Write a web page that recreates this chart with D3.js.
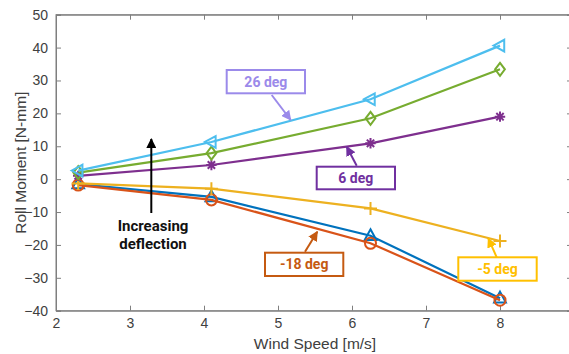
<!DOCTYPE html>
<html><head><meta charset="utf-8">
<script src="https://cdn.jsdelivr.net/npm/d3@7"></script>
<style>body{margin:0;background:#fff}svg{display:block}</style>
</head><body>
<script>
const windSpeed = [2.3, 4.1, 6.25, 8.0];
const seriesNames = ["s1", "-18 deg", "-5 deg", "6 deg", "s5", "26 deg"];
const seriesColors = ["#0072BD", "#D95319", "#EDB120", "#7E2F8E", "#77AC30", "#4DBEEE"];
const seriesMarkers = ["triUp", "circle", "plus", "star", "diamond", "triLeft"];
const valsBlue = [-1.5, -5.4, -17.2, -36.2];
const valsOrange = [-1.8, -6.3, -19.5, -36.8];
const valsYellow = [-1.3, -2.9, -8.9, -18.8];
const valsPurple = [1.0, 4.3, 10.9, 19.0];
const valsGreen = [2.0, 7.9, 18.5, 33.4];
const valsCyan = [2.6, 11.3, 24.3, 40.6];
const allVals = [valsBlue, valsOrange, valsYellow, valsPurple, valsGreen, valsCyan];
const xTicks = [2, 3, 4, 5, 6, 7, 8];
const yTicks = [-40, -30, -20, -10, 0, 10, 20, 30, 40, 50];

const W = 569, H = 354;
const svg = d3.select("body").append("svg").attr("width", W).attr("height", H)
  .style("font-family", "'Liberation Sans', Arial, sans-serif");
const x = d3.scaleLinear().domain([2, 9]).range([56, 574]);
const y = d3.scaleLinear().domain([-40, 50]).range([310.7, 14.7]);
const axisCol = "#7f7f7f", textCol = "#404040";

svg.append("rect").attr("x", 56).attr("y", 14.7).attr("width", 574 - 56).attr("height", 310.7 - 14.7)
  .attr("fill", "none").attr("stroke", axisCol).attr("stroke-width", 1);

const gx = svg.append("g").attr("transform", "translate(0,310.7)")
  .call(d3.axisBottom(x).tickValues(xTicks).tickSize(-5).tickPadding(7).tickFormat(d3.format("d")));
const gxt = svg.append("g").attr("transform", "translate(0,14.7)")
  .call(d3.axisTop(x).tickValues(xTicks).tickSize(-5).tickFormat(""));
const gy = svg.append("g").attr("transform", "translate(56,0)")
  .call(d3.axisLeft(y).tickValues(yTicks).tickSize(-5).tickPadding(8).tickFormat(d3.format("d")));
const gyr = svg.append("g").attr("transform", "translate(572,0)")
  .call(d3.axisRight(y).tickValues(yTicks).tickSize(-5).tickFormat(""));
[gx, gxt, gy, gyr].forEach(g => {
  g.select(".domain").attr("stroke", axisCol);
  g.selectAll(".tick line").attr("stroke", axisCol);
  g.selectAll(".tick text").attr("fill", textCol).style("font-size", "14px");
});

svg.append("text").attr("x", x(5.5)).attr("y", 349).attr("text-anchor", "middle")
  .attr("fill", textCol).style("font-size", "15.5px").text("Wind Speed [m/s]");
svg.append("text").attr("transform", "translate(26," + y(5) + ") rotate(-90)").attr("text-anchor", "middle")
  .attr("fill", textCol).style("font-size", "15.5px").text("Roll Moment [N-mm]");

function markerPath(type, s) {
  const r = s / 2;
  switch (type) {
    case "triUp": return `M0,${-r}L${r * 0.9},${r * 0.65}L${-r * 0.9},${r * 0.65}Z`;
    case "triLeft": return `M${-r},0L${r * 0.65},${-r * 0.9}L${r * 0.65},${r * 0.9}Z`;
    case "diamond": return `M0,${-r}L${r * 0.75},0L0,${r}L${-r * 0.75},0Z`;
    case "plus": return `M${-r},0L${r},0M0,${-r}L0,${r}`;
    case "circle": return d3.arc()({innerRadius: 0, outerRadius: r * 0.85, startAngle: 0, endAngle: 2 * Math.PI});
    case "star": {
      let p = "";
      for (let i = 0; i < 4; i++) {
        const a = i * Math.PI / 4;
        p += `M${-r * 0.8 * Math.cos(a)},${-r * 0.8 * Math.sin(a)}L${r * 0.8 * Math.cos(a)},${r * 0.8 * Math.sin(a)}`;
      }
      return p;
    }
  }
}

const line = d3.line().x((d, i) => x(windSpeed[i])).y(d => y(d));
allVals.forEach((vals, k) => {
  const g = svg.append("g");
  g.append("path").attr("d", line(vals)).attr("fill", "none")
    .attr("stroke", seriesColors[k]).attr("stroke-width", 2.2);
  g.selectAll("path.m").data(vals).enter().append("path").attr("class", "m")
    .attr("transform", (d, i) => `translate(${x(windSpeed[i])},${y(d)})`)
    .attr("d", markerPath(seriesMarkers[k], 13))
    .attr("fill", "none").attr("stroke", seriesColors[k]).attr("stroke-width", 2);
});

const defs = svg.append("defs");
function arrowHead(id, col) {
  defs.append("marker").attr("id", id).attr("viewBox", "0 0 10 10").attr("refX", 9).attr("refY", 5)
    .attr("markerWidth", 5).attr("markerHeight", 5).attr("orient", "auto")
    .append("path").attr("d", "M0,0L10,5L0,10Z").attr("fill", col);
}
const notes = [
  {text: "26 deg", col: "#9B8AEA", box: [226.7, 70, 78.3, 23.3], arrow: [271.7, 95, 290.7, 120]},
  {text: "6 deg", col: "#7030A0", box: [316.7, 166.7, 78.3, 22.6], arrow: [356.7, 165.7, 346.7, 146.7]},
  {text: "-18 deg", col: "#C55A11", box: [265, 252.7, 78.3, 23.3], arrow: [305, 251.7, 317.3, 231.7]},
  {text: "-5 deg", col: "#FFC000", box: [458.3, 257.3, 78.4, 23.4], arrow: [496.7, 257.3, 488.3, 238.3]}
];
notes.forEach((n, i) => {
  arrowHead("ah" + i, n.col);
  svg.append("line").attr("x1", n.arrow[0]).attr("y1", n.arrow[1]).attr("x2", n.arrow[2]).attr("y2", n.arrow[3])
    .attr("stroke", n.col).attr("stroke-width", 2).attr("marker-end", `url(#ah${i})`);
  svg.append("rect").attr("x", n.box[0]).attr("y", n.box[1]).attr("width", n.box[2]).attr("height", n.box[3])
    .attr("fill", "#fff").attr("stroke", n.col).attr("stroke-width", 2);
  svg.append("text").attr("x", n.box[0] + n.box[2] / 2).attr("y", n.box[1] + n.box[3] / 2 + 5)
    .attr("text-anchor", "middle").attr("fill", n.col).style("font-family", "Roboto, sans-serif")
    .style("font-weight", "bold").style("font-size", "14px").text(n.text);
});

arrowHead("blk", "#000");
svg.append("line").attr("x1", 151.3).attr("y1", 213).attr("x2", 151.3).attr("y2", 139)
  .attr("stroke", "#000").attr("stroke-width", 2).attr("marker-end", "url(#blk)");
svg.append("text").attr("x", 153).attr("y", 231).attr("text-anchor", "middle").attr("fill", "#111")
  .style("font-family", "Roboto, sans-serif").style("font-weight", "bold").style("font-size", "15px").text("Increasing");
svg.append("text").attr("x", 153).attr("y", 249).attr("text-anchor", "middle").attr("fill", "#111")
  .style("font-family", "Roboto, sans-serif").style("font-weight", "bold").style("font-size", "15px").text("deflection");
</script>
</body></html>
